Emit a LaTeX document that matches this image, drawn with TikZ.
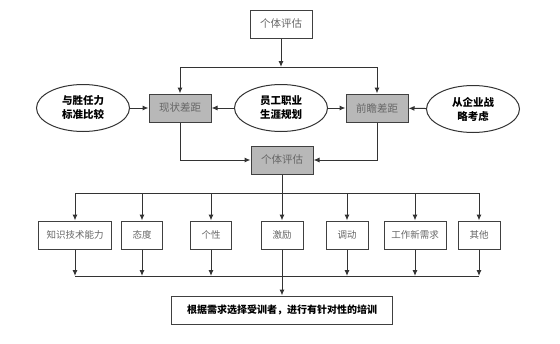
\documentclass[tikz,border=0pt]{standalone}
\usepackage{fontspec}
\setmainfont{Noto Sans CJK SC}
\usetikzlibrary{arrows.meta,shapes.geometric}
\tikzset{
  plainbox/.style={rectangle,draw=black!75,line width=1pt,minimum width=62pt,minimum height=28pt,
                   inner sep=1pt,text=black!60,font=\fontsize{10.5}{12}\selectfont},
  graybox/.style={plainbox,fill=black!28},
  oval/.style={ellipse,draw=black!80,line width=1pt,minimum width=93pt,minimum height=47pt,
               inner sep=0pt,align=center,font=\bfseries\fontsize{10.5}{14}\selectfont},
  itembox/.style={plainbox,minimum height=28pt,font=\fontsize{9.5}{11}\selectfont},
  resultbox/.style={plainbox,minimum width=221pt,text=black,font=\bfseries\fontsize{10}{12}\selectfont},
  edge/.style={-{Latex[length=6pt,width=5pt]},draw=black!80,line width=1pt},
  link/.style={draw=black!80,line width=1pt},
}
\begin{document}
\begin{tikzpicture}[x=1pt,y=-1pt]
  \useasboundingbox (0,0) rectangle (560,343);
  % upper part
  \node[plainbox] (top) at (281,24) {个体评估};
  \node[graybox] (gapnow) at (180,108) {现状差距};
  \node[graybox] (gapfut) at (377,108) {前瞻差距};
  \node[oval] (compare) at (83,108) {与胜任力\\标准比较};
  \node[oval] (career) at (281,108) {员工职业\\生涯规划};
  \node[oval] (strategy) at (473,109) {从企业战\\略考虑};
  \node[graybox] (eval) at (282,160) {个体评估};
  \coordinate (jt) at (281,67);
  \draw[edge] (top) -- (jt);
  \draw[edge] (jt) -| (gapnow);
  \draw[edge] (jt) -| (gapfut);
  \draw[edge] (compare) -- (gapnow);
  \draw[edge] (career) -- (gapnow);
  \draw[edge] (career) -- (gapfut);
  \draw[edge] (strategy) -- (gapfut);
  \draw[edge] (gapnow) |- (eval);
  \draw[edge] (gapfut) |- (eval);
  % lower part
  \foreach \nm/\cx/\bw/\txt in {know/75/73/知识技术能力, att/142/41/态度, pers/211/41/个性,
      motiv/282/42/激励, move/347/42/调动, need/415/62/工作新需求, other/479/42/其他}
    \node[itembox,minimum width=\bw pt] (\nm) at (\cx,235) {\txt};
  \node[resultbox] (result) at (282,310) {根据需求选择受训者，进行有针对性的培训};
  \coordinate (jb) at (282,193);
  \coordinate (jl) at (282,276);
  \draw[link] (eval) -- (jb);
  \foreach \nm in {know,att,pers,motiv,move,need,other}
    \draw[edge] (jb) -| (\nm);
  \foreach \nm in {know,att,pers,move,need,other}
    \draw[edge] (\nm) -- (\nm |- jl);
  \draw[link] (know |- jl) -- (other |- jl);
  \draw[edge] (motiv) -- (result);
\end{tikzpicture}
\end{document}
